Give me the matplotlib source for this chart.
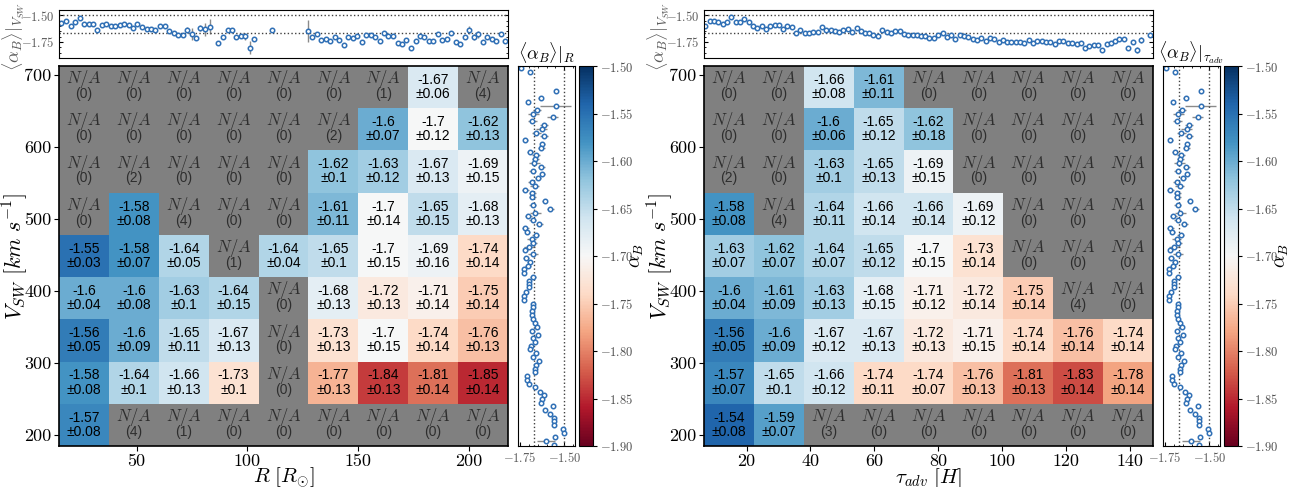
import numpy as np
import matplotlib.pyplot as plt
from matplotlib.ticker import FuncFormatter, AutoMinorLocator

plt.rcParams['mathtext.fontset'] = 'cm'
plt.rcParams['font.family'] = ['Liberation Sans', 'DejaVu Sans']

# --- heatmap bins ---
r_edges = [15, 37.5, 60, 82.5, 105, 127.5, 150, 172.5, 195, 217.5]
tau_edges = [6.7, 22.3, 37.9, 53.5, 69.1, 84.7, 100.3, 115.9, 131.5, 147.1]
v_edges = [185, 243.6, 302.1, 360.7, 419.2, 477.8, 536.3, 594.9, 653.4, 712]
v_ticks = [200, 300, 400, 500, 600, 700]
r_ticks = [50, 100, 150, 200]
tau_ticks = [20, 40, 60, 80, 100, 120, 140]

nan = np.nan
# rows from bottom (low V_SW) to top
alpha_R = [
    [-1.57, nan, nan, nan, nan, nan, nan, nan, nan],
    [-1.58, -1.64, -1.66, -1.73, nan, -1.77, -1.84, -1.81, -1.85],
    [-1.56, -1.6, -1.65, -1.67, nan, -1.73, -1.7, -1.74, -1.76],
    [-1.6, -1.6, -1.63, -1.64, nan, -1.68, -1.72, -1.71, -1.75],
    [-1.55, -1.58, -1.64, nan, -1.64, -1.65, -1.7, -1.69, -1.74],
    [nan, -1.58, nan, nan, nan, -1.61, -1.7, -1.65, -1.68],
    [nan, nan, nan, nan, nan, -1.62, -1.63, -1.67, -1.69],
    [nan, nan, nan, nan, nan, nan, -1.6, -1.7, -1.62],
    [nan, nan, nan, nan, nan, nan, nan, -1.67, nan],
]
err_R = [
    [0.08, 0, 0, 0, 0, 0, 0, 0, 0],
    [0.08, 0.1, 0.13, 0.1, 0, 0.13, 0.13, 0.14, 0.14],
    [0.05, 0.09, 0.11, 0.13, 0, 0.13, 0.15, 0.14, 0.13],
    [0.04, 0.08, 0.1, 0.15, 0, 0.13, 0.13, 0.14, 0.14],
    [0.03, 0.07, 0.05, 0, 0.04, 0.1, 0.15, 0.16, 0.14],
    [0, 0.08, 0, 0, 0, 0.11, 0.14, 0.15, 0.13],
    [0, 0, 0, 0, 0, 0.1, 0.12, 0.13, 0.15],
    [0, 0, 0, 0, 0, 0, 0.07, 0.12, 0.13],
    [0, 0, 0, 0, 0, 0, 0, 0.06, 0],
]
count_R = [
    [0, 4, 1, 0, 0, 0, 0, 0, 0],
    [0, 0, 0, 0, 0, 0, 0, 0, 0],
    [0, 0, 0, 0, 0, 0, 0, 0, 0],
    [0, 0, 0, 0, 0, 0, 0, 0, 0],
    [0, 0, 0, 1, 0, 0, 0, 0, 0],
    [0, 0, 4, 0, 0, 0, 0, 0, 0],
    [0, 2, 0, 0, 0, 0, 0, 0, 0],
    [0, 0, 0, 0, 0, 2, 0, 0, 0],
    [0, 0, 0, 0, 0, 0, 1, 0, 4],
]

alpha_T = [
    [-1.54, -1.59, nan, nan, nan, nan, nan, nan, nan],
    [-1.57, -1.65, -1.66, -1.74, -1.74, -1.76, -1.81, -1.83, -1.78],
    [-1.56, -1.6, -1.67, -1.67, -1.72, -1.71, -1.74, -1.76, -1.74],
    [-1.6, -1.61, -1.63, -1.68, -1.71, -1.72, -1.75, nan, nan],
    [-1.63, -1.62, -1.64, -1.65, -1.7, -1.73, nan, nan, nan],
    [-1.58, nan, -1.64, -1.66, -1.66, -1.69, nan, nan, nan],
    [nan, nan, -1.63, -1.65, -1.69, nan, nan, nan, nan],
    [nan, nan, -1.6, -1.65, -1.62, nan, nan, nan, nan],
    [nan, nan, -1.66, -1.61, nan, nan, nan, nan, nan],
]
err_T = [
    [0.08, 0.07, 0, 0, 0, 0, 0, 0, 0],
    [0.07, 0.1, 0.12, 0.11, 0.07, 0.13, 0.13, 0.14, 0.14],
    [0.05, 0.09, 0.12, 0.13, 0.13, 0.15, 0.14, 0.14, 0.14],
    [0.04, 0.09, 0.13, 0.15, 0.12, 0.14, 0.14, 0, 0],
    [0.07, 0.07, 0.07, 0.12, 0.15, 0.14, 0, 0, 0],
    [0.08, 0, 0.11, 0.14, 0.14, 0.12, 0, 0, 0],
    [0, 0, 0.1, 0.13, 0.15, 0, 0, 0, 0],
    [0, 0, 0.06, 0.12, 0.18, 0, 0, 0, 0],
    [0, 0, 0.08, 0.11, 0, 0, 0, 0, 0],
]
count_T = [
    [0, 0, 3, 0, 0, 0, 0, 0, 0],
    [0, 0, 0, 0, 0, 0, 0, 0, 0],
    [0, 0, 0, 0, 0, 0, 0, 0, 0],
    [0, 0, 0, 0, 0, 0, 0, 4, 0],
    [0, 0, 0, 0, 0, 0, 0, 0, 0],
    [0, 4, 0, 0, 0, 0, 0, 0, 0],
    [2, 0, 0, 0, 0, 0, 0, 0, 0],
    [0, 0, 0, 0, 0, 0, 0, 0, 0],
    [0, 0, 0, 0, 0, 0, 0, 0, 0],
]

# --- top marginal: <alpha_B> vs R ---
topR_x = [15.8, 18.0, 20.3, 22.4, 24.3, 26.4, 28.4, 30.5, 32.3, 34.4, 36.3, 38.4, 40.4, 42.3, 44.4,
          46.4, 48.3, 50.4, 52.5, 54.5, 56.6, 58.5, 60.6, 62.6, 64.7, 66.7, 68.8, 70.7, 72.8, 74.8,
          76.9, 78.8, 80.9, 82.9, 86.8, 88.9, 91.0, 92.9, 94.9, 97.0, 99.1, 101.0, 103.0, 111.2,
          127.3, 129.3, 131.4, 133.3, 135.4, 137.4, 139.5, 141.4, 143.4, 145.5, 147.4, 149.4, 151.5,
          153.6, 155.5, 157.6, 159.6, 161.7, 163.6, 165.7, 167.7, 169.8, 171.7, 173.7, 175.8, 177.7,
          179.8, 181.8, 183.9, 185.8, 187.9, 189.9, 192.0, 193.9, 195.9, 198.0, 200.0, 202.1, 204.0,
          206.1, 208.1, 210.2, 212.3, 214.2, 216.3]
topR_y = [-1.575, -1.556, -1.597, -1.559, -1.522, -1.578, -1.578, -1.584, -1.641, -1.588, -1.578,
          -1.600, -1.600, -1.588, -1.584, -1.594, -1.619, -1.581, -1.606, -1.625, -1.625, -1.634,
          -1.603, -1.603, -1.647, -1.666, -1.684, -1.681, -1.638, -1.675, -1.709, -1.619, -1.631,
          -1.606, -1.756, -1.703, -1.641, -1.638, -1.703, -1.697, -1.697, -1.803, -1.722, -1.641,
          -1.647, -1.706, -1.672, -1.728, -1.725, -1.744, -1.700, -1.731, -1.778, -1.700, -1.716,
          -1.697, -1.753, -1.688, -1.688, -1.706, -1.738, -1.666, -1.697, -1.691, -1.763, -1.769,
          -1.728, -1.803, -1.738, -1.697, -1.700, -1.738, -1.741, -1.678, -1.728, -1.719, -1.666,
          -1.753, -1.769, -1.703, -1.638, -1.703, -1.678, -1.750, -1.700, -1.719, -1.744, -1.678,
          -1.738]
topR_err = [0.01] * 28 + [0.03, 0.06, 0.01, 0.03, 0.06, 0.07] + [0.01] * 6 + [0.03, 0.06, 0.01, 0.01] \
    + [0.10] + [0.01] * 35 + [0.04, 0.03, 0.03] + [0.01] * 6

# --- top marginal: <alpha_B> vs tau_adv ---
topT_x = [7.1, 8.5, 9.8, 11.2, 12.6, 13.9, 15.2, 16.6, 17.9, 19.3, 20.7, 22.0, 23.3, 24.7, 26.0,
          27.3, 28.8, 30.1, 31.4, 32.7, 34.1, 35.4, 36.7, 38.2, 39.5, 40.8, 42.2, 43.5, 44.8, 46.3,
          47.6, 48.9, 50.3, 51.6, 52.9, 54.4, 55.7, 57.1, 58.4, 59.7, 61.0, 62.5, 63.8, 65.2, 66.5,
          67.9, 69.2, 70.6, 71.9, 73.2, 74.6, 75.9, 77.2, 78.6, 80.0, 81.3, 82.7, 84.0, 85.3, 86.7,
          88.1, 89.4, 90.8, 92.1, 93.4, 94.8, 96.2, 97.5, 98.9, 100.2, 101.5, 102.8, 104.3, 105.6,
          106.9, 108.3, 109.6, 110.9, 112.3, 113.6, 115.0, 116.4, 117.7, 119.0, 120.4, 121.8, 123.2,
          124.5, 125.8, 127.2, 128.5, 129.9, 131.3, 132.6, 133.9, 135.3, 136.6, 137.9, 139.4, 140.7,
          142.0, 143.4, 146.1]
topT_y = [-1.600, -1.553, -1.556, -1.563, -1.578, -1.566, -1.513, -1.563, -1.566, -1.531, -1.563,
          -1.600, -1.616, -1.600, -1.631, -1.597, -1.588, -1.588, -1.625, -1.600, -1.606, -1.669,
          -1.641, -1.663, -1.669, -1.659, -1.659, -1.609, -1.638, -1.641, -1.650, -1.653, -1.641,
          -1.631, -1.656, -1.619, -1.650, -1.663, -1.666, -1.684, -1.694, -1.634, -1.659, -1.669,
          -1.644, -1.644, -1.675, -1.681, -1.684, -1.688, -1.694, -1.697, -1.713, -1.716, -1.688,
          -1.669, -1.703, -1.684, -1.725, -1.688, -1.691, -1.703, -1.719, -1.728, -1.716, -1.744,
          -1.713, -1.725, -1.750, -1.734, -1.750, -1.747, -1.753, -1.753, -1.756, -1.734, -1.759,
          -1.744, -1.738, -1.747, -1.750, -1.769, -1.741, -1.741, -1.759, -1.759, -1.772, -1.756,
          -1.806, -1.788, -1.781, -1.781, -1.822, -1.769, -1.763, -1.741, -1.725, -1.719, -1.809,
          -1.747, -1.825, -1.734, -1.684]
topT_err = [0.01] * 98 + [0.02, 0.01, 0.03, 0.03, 0.02]

# --- side marginal: <alpha_B> vs V_SW ---
side_v = [709.3, 703.7, 677.8, 667.1, 661.6, 656.0, 650.9, 645.8, 641.2, 635.6, 630.1, 625.0, 619.4,
          614.4, 609.3, 603.7, 598.6, 593.1, 588.0, 582.9, 577.8, 571.8, 566.7, 562.0, 556.5, 551.4,
          545.8, 540.7, 535.6, 530.1, 525.0, 519.4, 513.9, 508.8, 503.7, 498.6, 493.1, 487.5, 482.4,
          477.8, 471.8, 466.2, 461.1, 456.5, 450.9, 445.8, 440.3, 435.2, 430.1, 425.5, 419.4, 414.4,
          409.3, 405.1, 398.1, 392.6, 387.5, 382.4, 377.3, 372.2, 366.7, 361.1, 356.0, 350.5, 344.4,
          338.9, 334.3, 329.2, 324.1, 319.0, 313.4, 308.3, 303.2, 297.7, 292.1, 287.0, 281.9, 276.9,
          271.3, 266.2, 260.2, 255.6, 250.0, 244.4, 239.8, 234.3, 228.7, 224.1, 219.0, 213.9, 207.9,
          202.8, 197.2, 192.1, 187.0]
side_a = [-1.741, -1.694, -1.549, -1.633, -1.702, -1.549, -1.653, -1.673, -1.565, -1.680, -1.614,
          -1.627, -1.657, -1.614, -1.718, -1.624, -1.629, -1.692, -1.659, -1.663, -1.669, -1.629,
          -1.678, -1.624, -1.647, -1.682, -1.665, -1.718, -1.680, -1.680, -1.610, -1.678, -1.578,
          -1.663, -1.702, -1.678, -1.641, -1.718, -1.708, -1.661, -1.684, -1.673, -1.696, -1.718,
          -1.675, -1.716, -1.694, -1.704, -1.725, -1.724, -1.676, -1.700, -1.696, -1.698, -1.714,
          -1.727, -1.725, -1.673, -1.673, -1.682, -1.680, -1.676, -1.665, -1.653, -1.682, -1.649,
          -1.676, -1.667, -1.686, -1.694, -1.661, -1.675, -1.641, -1.659, -1.667, -1.665, -1.708,
          -1.708, -1.696, -1.665, -1.637, -1.614, -1.627, -1.633, -1.565, -1.606, -1.578, -1.559,
          -1.559, -1.559, -1.510, -1.504, -1.555, -1.602, -1.559]
side_err = [0.005, 0.005, 0.005, 0.015, 0.005, 0.085, 0.02, 0.03, 0.03, 0.025, 0.02, 0.03, 0.025,
            0.02, 0.015, 0.015, 0.02, 0.02, 0.02, 0.02, 0.03, 0.02, 0.02, 0.015, 0.015, 0.02, 0.025,
            0.02, 0.02, 0.02, 0.015, 0.02, 0.02, 0.03, 0.02, 0.02, 0.02, 0.02, 0.015, 0.02, 0.025,
            0.02, 0.03, 0.015, 0.03, 0.015, 0.015, 0.015, 0.01, 0.01, 0.015, 0.01, 0.01, 0.01, 0.01,
            0.01, 0.01, 0.01, 0.01, 0.01, 0.01, 0.01, 0.01, 0.01, 0.01, 0.01, 0.01, 0.01, 0.01, 0.01,
            0.01, 0.01, 0.01, 0.01, 0.01, 0.01, 0.01, 0.01, 0.01, 0.01, 0.01, 0.01, 0.01, 0.01, 0.01,
            0.01, 0.01, 0.01, 0.01, 0.01, 0.01, 0.01, 0.01, 0.05, 0.01]

mean_alpha = -1.67
vmin, vmax = -1.9, -1.5

cmap = plt.get_cmap('RdBu').copy()
cmap.set_bad('#808080')

W, H = 1293, 487
fig = plt.figure(figsize=(W / 100, H / 100), dpi=100)


def box(x0, y0, x1, y1):
    # pixel box (top-left origin) -> figure fraction
    return [x0 / W, 1 - y1 / H, (x1 - x0) / W, (y1 - y0) / H]


def mfmt(fmt):
    return FuncFormatter(lambda v, p: '$' + (fmt % v) + '$')


def heatmap(ax, xedges, vals, errs, counts, xticks):
    data = np.ma.masked_invalid(np.array(vals, dtype=float))
    mesh = ax.pcolormesh(xedges, v_edges, data, cmap=cmap, vmin=vmin, vmax=vmax)
    for i in range(len(v_edges) - 1):
        yc = 0.5 * (v_edges[i] + v_edges[i + 1])
        for j in range(len(xedges) - 1):
            xc = 0.5 * (xedges[j] + xedges[j + 1])
            v = vals[i][j]
            if np.isnan(v):
                ax.text(xc, yc + 11, r'$N/A$', ha='center', va='center', fontsize=12, color='#2e2e2e')
                ax.text(xc, yc - 9.5, '(%d)' % counts[i][j], ha='center', va='center', fontsize=10,
                        color='#2e2e2e')
            else:
                ax.text(xc, yc + 10, '%g' % v, ha='center', va='center', fontsize=10, color='k')
                ax.text(xc, yc - 9.5, '\u00b1%g' % errs[i][j], ha='center', va='center', fontsize=10,
                        color='k')
    ax.set_xlim(xedges[0], xedges[-1])
    ax.set_ylim(v_edges[0], v_edges[-1])
    ax.set_yticks(v_ticks, labels=[str(t) for t in v_ticks], fontfamily='cmr10', fontsize=13)
    ax.set_xticks(xticks, labels=[str(t) for t in xticks], fontfamily='cmr10', fontsize=13)
    ax.tick_params(length=3.5, pad=2)
    ax.set_ylabel(r'$V_{SW}\ [km\ s^{-1}]$', fontsize=16)
    ax.yaxis.set_label_coords(-0.064, 0.5)
    for s in ax.spines.values():
        s.set_linewidth(1.2)
    return mesh


def top_panel(ax, x, y, e, xlim):
    ax.errorbar(x, y, yerr=e, fmt='o', ms=3.2, mfc='white', mec='#2f6fb5', mew=1.1,
                ecolor='#8a8a8a', elinewidth=1, capsize=0)
    ax.axhline(-1.5, ls=':', color='0.25', lw=1)
    ax.axhline(mean_alpha, ls=':', color='0.25', lw=1)
    ax.set_xlim(xlim)
    ax.set_ylim(-1.9, -1.45)
    ax.set_xticks([])
    ax.set_yticks([-1.5, -1.75])
    ax.yaxis.set_minor_locator(AutoMinorLocator(5))
    ax.yaxis.set_major_formatter(mfmt('%.2f'))
    ax.tick_params(axis='y', which='both', direction='in', right=True, labelsize=9, length=3,
                   labelcolor='0.35')
    ax.tick_params(axis='y', which='minor', length=1.5)
    ax.set_ylabel(r'$\langle\alpha_B\rangle|_{V_{SW}}$', fontsize=13, color='0.35')
    ax.yaxis.set_label_coords(-0.072, 0.45)


def side_panel(ax, title):
    ax.errorbar(side_a, side_v, xerr=side_err, fmt='o', ms=3.2, mfc='white', mec='#2f6fb5',
                mew=1.1, ecolor='#8a8a8a', elinewidth=1, capsize=0)
    ax.axvline(-1.5, ls=':', color='0.25', lw=1)
    ax.axvline(mean_alpha, ls=':', color='0.25', lw=1)
    ax.set_ylim(v_edges[0], v_edges[-1])
    ax.set_xlim(-1.76, -1.44)
    ax.set_yticks([])
    ax.set_xticks([-1.75, -1.5])
    ax.xaxis.set_minor_locator(AutoMinorLocator(5))
    ax.xaxis.set_major_formatter(mfmt('%.2f'))
    ax.tick_params(axis='x', which='both', direction='in', top=True, labelsize=9, length=3,
                   labelcolor='0.35')
    ax.tick_params(axis='x', which='minor', length=1.5)
    ax.set_title(title, fontsize=13, pad=2)


def colorbar(cax, mesh):
    cb = fig.colorbar(mesh, cax=cax)
    cb.set_ticks(np.arange(-1.9, -1.49, 0.05))
    cb.ax.yaxis.set_major_formatter(mfmt('%.2f'))
    cb.ax.tick_params(labelsize=9, length=3, pad=2, labelcolor='0.3')
    cb.set_label(r'$\alpha_B$', fontsize=14)
    cb.ax.yaxis.set_label_coords(3.55, 0.5)


# left group (R)
ax_hm1 = fig.add_axes(box(59, 66, 508, 446))
mesh1 = heatmap(ax_hm1, r_edges, alpha_R, err_R, count_R, r_ticks)
ax_hm1.set_xlabel(r'$R\ [R_{\odot}]$', fontsize=15)
ax_hm1.xaxis.set_label_coords(0.5, -0.052)

ax_top1 = fig.add_axes(box(59, 10, 508, 58))
top_panel(ax_top1, topR_x, topR_y, topR_err, (r_edges[0], r_edges[-1]))

ax_side1 = fig.add_axes(box(518, 66, 575, 446))
side_panel(ax_side1, r'$\langle\alpha_B\rangle|_R$')

cax1 = fig.add_axes(box(579, 66, 593, 446))
colorbar(cax1, mesh1)

# right group (tau_adv)
ax_hm2 = fig.add_axes(box(704, 66, 1153, 446))
mesh2 = heatmap(ax_hm2, tau_edges, alpha_T, err_T, count_T, tau_ticks)
ax_hm2.set_xlabel(r'$\tau_{adv}\ [H]$', fontsize=15)
ax_hm2.xaxis.set_label_coords(0.5, -0.052)

ax_top2 = fig.add_axes(box(704, 10, 1153, 58))
top_panel(ax_top2, topT_x, topT_y, topT_err, (tau_edges[0], tau_edges[-1]))

ax_side2 = fig.add_axes(box(1163, 66, 1220, 446))
side_panel(ax_side2, r'$\langle\alpha_B\rangle|_{\tau_{adv}}$')

cax2 = fig.add_axes(box(1224, 66, 1238, 446))
colorbar(cax2, mesh2)

fig.savefig('out.png', dpi=100)
